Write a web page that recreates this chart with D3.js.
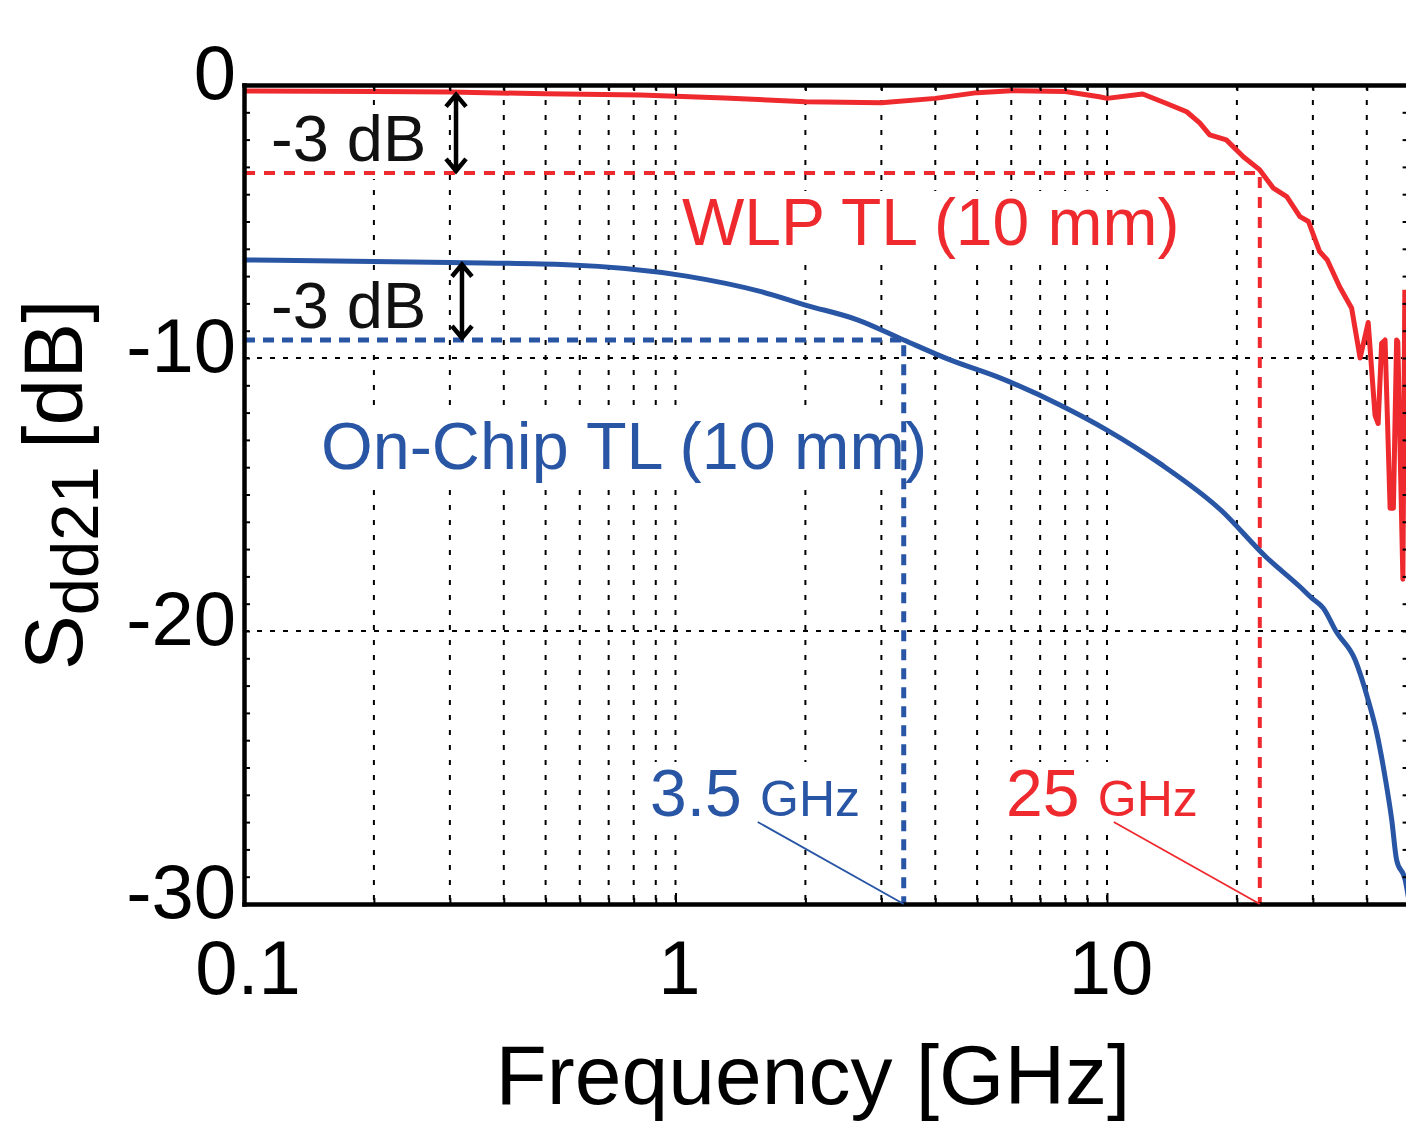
<!DOCTYPE html>
<html>
<head>
<meta charset="utf-8">
<script src="https://cdn.jsdelivr.net/npm/d3@7"></script>
<style>
  body { margin: 0; background: #fff; }
  text { font-family: "Liberation Sans", Arial, Helvetica, sans-serif; }
</style>
</head>
<body>
<div id="chart"></div>
<script>
// WLP TL (10 mm) : frequency [GHz] / Sdd21 [dB]
var wlpFreq = [0.1, 0.2, 0.3, 0.5, 0.83, 1.3, 2.0, 3.0, 4.0, 5.0,
               6.0, 8.0, 9.6, 10, 12.1, 13.7, 15.3, 16.4, 17.3, 18.9,
               20.7, 22.6, 24.3, 26.1, 28.0, 29.3, 31.1, 32.4, 34.6, 36.9,
               38.6, 40.3, 41.8, 42.5, 43.3, 44.1, 45.3, 46.1, 46.9, 47.2,
               48.5, 49.0];
var wlpDb = [-0.22, -0.24, -0.26, -0.32, -0.37, -0.48, -0.61, -0.65, -0.49, -0.28,
             -0.21, -0.24, -0.43, -0.49, -0.33, -0.67, -0.98, -1.39, -1.83, -2.01,
             -2.63, -3.11, -3.78, -4.09, -4.82, -5.0, -6.1, -6.41, -7.39, -8.18,
             -10.0, -8.7, -12.1, -12.4, -9.46, -9.34, -15.5, -15.5, -9.34, -9.4,
             -18.1, -7.5];

// On-Chip TL (10 mm)
var chipFreq = [0.1, 0.3, 0.56, 1.06, 1.58, 2.0, 2.65, 3.38, 4.33, 5.65,
                7.78, 10, 13.3, 18.3, 23.4, 28.0, 29.8, 31.7, 34.0, 37.6,
                40.3, 42.2, 44.1, 45.7, 46.9, 49.1, 50];
var chipDb = [-6.41, -6.5, -6.58, -7.0, -7.57, -8.06, -8.61, -9.34, -10.07, -10.73,
              -11.72, -12.64, -13.88, -15.55, -17.3, -18.38, -18.79, -19.16, -20.03, -21.06,
              -22.53, -23.74, -25.35, -26.92, -28.39, -29.12, -29.8];

// -3 dB points
var wlpCutoff = 22.6, wlpLevel = -3.22;
var chipCutoff = 3.38, chipLevel = -9.34;
var arrowFreq = [0.31, 0.32];
var arrowFrom = [-0.28, -6.5];
var arrowTo = [-3.22, -9.34];

// ticks and grid
var xTickValues = [0.1, 1, 10];
var xTickLabels = ["0.1", "1", "10"];
var yTickValues = [0, -10, -20, -30];
var yTickLabels = ["0", "-10", "-20", "-30"];
var xGrid = [0.2, 0.3, 0.4, 0.5, 0.6, 0.7, 0.8, 0.9, 1, 2, 3, 4, 5, 6, 7, 8, 9, 10, 20, 30, 40];
var yGrid = [-10, -20];
var yMinor = d3.range(-29, 0);

var red = "#ee2a2e", blue = "#2955a5", ink = "#111";

// set the dimensions and margins of the graph
var margin = {top: 85, left: 244},
    width = 1164.6,
    height = 819;

var svg = d3.select("#chart")
    .append("svg")
    .attr("width", 1406)
    .attr("height", 1125);
var g = svg.append("g")
    .attr("transform", "translate(" + margin.left + "," + margin.top + ")");

var x = d3.scaleLog().domain([0.1, 50]).range([0, width]);
var y = d3.scaleLinear().domain([-30, 0]).range([height, 0]);

g.append("clipPath").attr("id", "clip")
  .append("rect").attr("x", 0).attr("y", 0).attr("width", width).attr("height", height);

// dotted grid
g.selectAll(".vgrid").data(xGrid).enter().append("line")
    .attr("x1", function(d) { return x(d); })
    .attr("x2", function(d) { return x(d); })
    .attr("y1", 0).attr("y2", height)
    .attr("stroke", "#000").attr("stroke-width", 2)
    .attr("stroke-dasharray", "5,10");
g.selectAll(".hgrid").data(yGrid).enter().append("line")
    .attr("x1", 0).attr("x2", width)
    .attr("y1", function(d) { return y(d); })
    .attr("y2", function(d) { return y(d); })
    .attr("stroke", "#000").attr("stroke-width", 2)
    .attr("stroke-dasharray", "5,8");

// white boxes behind the in-plot labels go here (filled at the end)
var bgLayer = g.append("g")
    .attr("transform", "translate(" + (-margin.left) + "," + (-margin.top) + ")");

// -3 dB guide lines
g.append("path")
    .attr("d", "M0," + y(wlpLevel) + "H" + x(wlpCutoff) + "V" + height)
    .attr("fill", "none").attr("stroke", red).attr("stroke-width", 4)
    .attr("stroke-dasharray", "11,9");
g.append("path")
    .attr("d", "M0," + y(chipLevel) + "H" + x(chipCutoff) + "V" + height)
    .attr("fill", "none").attr("stroke", blue).attr("stroke-width", 5)
    .attr("stroke-dasharray", "11,8");

// curves
var line = d3.line()
    .x(function(d) { return x(d[0]); })
    .y(function(d) { return y(d[1]); });

g.append("path")
    .datum(chipFreq.map(function(f, i) { return [f, chipDb[i]]; }))
    .attr("clip-path", "url(#clip)")
    .attr("fill", "none").attr("stroke", blue).attr("stroke-width", 5)
    .attr("stroke-linejoin", "round")
    .attr("d", line.curve(d3.curveMonotoneX));
g.append("path")
    .datum(wlpFreq.map(function(f, i) { return [f, wlpDb[i]]; }))
    .attr("clip-path", "url(#clip)")
    .attr("fill", "none").attr("stroke", red).attr("stroke-width", 5)
    .attr("stroke-linejoin", "round")
    .attr("d", line.curve(d3.curveLinear));

// axes (inner ticks)
var axisStyle = function(sel) {
  sel.select(".domain").attr("stroke", "#000").attr("stroke-width", 4.5).attr("stroke-linecap", "square");
  sel.selectAll(".tick line").attr("stroke", "#000").attr("stroke-width", 2);
};
var bottomAxis = g.append("g").attr("transform", "translate(0," + height + ")")
    .call(d3.axisBottom(x).tickValues(xGrid).tickSize(-6).tickSizeOuter(0).tickFormat(""))
    .call(axisStyle);
var topAxis = g.append("g")
    .call(d3.axisTop(x).tickValues(xGrid).tickSize(-6).tickSizeOuter(0).tickFormat(""))
    .call(axisStyle);
bottomAxis.selectAll(".tick line").filter(function(d) { return d === 1 || d === 10; }).attr("y2", -11);
topAxis.selectAll(".tick line").filter(function(d) { return d === 1 || d === 10; }).attr("y2", 11);
g.append("g")
    .call(d3.axisLeft(y).tickValues(yMinor).tickSize(-6).tickSizeOuter(0).tickFormat(""))
    .call(axisStyle);
g.append("g").attr("transform", "translate(" + width + ",0)")
    .call(d3.axisRight(y).tickValues(yMinor).tickSize(-6).tickSizeOuter(0).tickFormat(""))
    .call(axisStyle);

// tick labels
g.selectAll(".xlab").data(xTickValues).enter().append("text")
    .attr("x", function(d) { return x(d) + 4; })
    .attr("y", height + 90)
    .attr("text-anchor", "middle")
    .attr("font-size", 76).attr("fill", "#000")
    .text(function(d, i) { return xTickLabels[i]; });
g.selectAll(".ylab").data(yTickValues).enter().append("text")
    .attr("x", -8)
    .attr("y", function(d) { return y(d) + 14; })
    .attr("text-anchor", "end")
    .attr("font-size", 76).attr("fill", "#000")
    .text(function(d, i) { return yTickLabels[i]; });

// axis titles
svg.append("text")
    .attr("x", 813).attr("y", 1104)
    .attr("text-anchor", "middle")
    .attr("font-size", 84).attr("fill", "#000")
    .text("Frequency [GHz]");
var yt = svg.append("text")
    .attr("transform", "translate(82,670) rotate(-90)")
    .attr("fill", "#000");
yt.append("tspan").attr("font-size", 82).text("S");
yt.append("tspan").attr("font-size", 67).attr("dy", 16).text("dd21");
yt.append("tspan").attr("font-size", 84).attr("dy", -16).attr("dx", -6).text(" [dB]");

// -3 dB arrows
g.selectAll(".arrow").data(arrowFreq).enter().append("path")
    .attr("d", function(f, i) {
      var ax = x(f), y1 = y(arrowFrom[i]) + 2, y2 = y(arrowTo[i]) - 2;
      return "M" + ax + "," + y1 + "V" + y2 +
             "M" + (ax - 10) + "," + (y1 + 12) + "L" + ax + "," + y1 + "L" + (ax + 10) + "," + (y1 + 12) +
             "M" + (ax - 10) + "," + (y2 - 12) + "L" + ax + "," + y2 + "L" + (ax + 10) + "," + (y2 - 12);
    })
    .attr("fill", "none").attr("stroke", "#000").attr("stroke-width", 4.5);

var boxed = [];
boxed.push(svg.append("text").attr("x", 271).attr("y", 161).attr("font-size", 65).attr("fill", ink).text("-3 dB"));
boxed.push(svg.append("text").attr("x", 271).attr("y", 328).attr("font-size", 65).attr("fill", ink).text("-3 dB"));

// series labels
boxed.push(svg.append("text").attr("x", 682).attr("y", 245).attr("font-size", 66).attr("fill", red).text("WLP TL (10 mm)"));
boxed.push(svg.append("text").attr("x", 321).attr("y", 469).attr("font-size", 66.5).attr("fill", blue).text("On-Chip TL (10 mm)"));

// cutoff labels with leader lines
var cut = [
  {f: chipCutoff, c: blue, num: "3.5 ", tx: 650},
  {f: wlpCutoff, c: red, num: "25 ", tx: 1006}
];
cut.forEach(function(d) {
  var t = svg.append("text").attr("x", d.tx).attr("y", 816).attr("fill", d.c);
  t.append("tspan").attr("font-size", 66).text(d.num);
  t.append("tspan").attr("font-size", 50).text("GHz");
  boxed.push(t);
  g.append("line")
      .attr("x1", x(d.f) - 146).attr("y1", height - 82)
      .attr("x2", x(d.f)).attr("y2", height)
      .attr("stroke", d.c).attr("stroke-width", 1.8);
});

// white background behind labels so the grid stops at the text
boxed.forEach(function(t) {
  var b = t.node().getBBox();
  var base = +t.attr("y");
  bgLayer.append("rect")
      .attr("x", b.x - 3).attr("y", base - 54)
      .attr("width", b.width + 6).attr("height", 72)
      .attr("fill", "#fff");
});
</script>
</body>
</html>
